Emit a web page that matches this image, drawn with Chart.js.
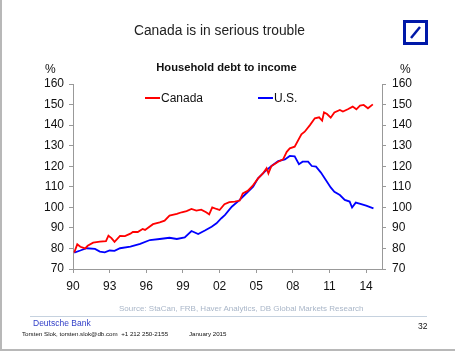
<!DOCTYPE html>
<html>
<head>
<meta charset="utf-8">
<script src="https://cdn.jsdelivr.net/npm/chart.js@4/dist/chart.umd.min.js"></script>
<style>
  body { margin: 0; width: 455px; height: 351px; position: relative; background: #fff; overflow: hidden;
         font-family: "Liberation Sans", Arial, sans-serif; }
  #frame { position: absolute; left: 0; top: 0; width: 453px; height: 349px; border-left: 2px solid #b8b8b8; border-bottom: 2px solid #b8b8b8; }
  canvas { position: absolute; left: 0; top: 0; }
  .txt { position: absolute; white-space: nowrap; }
  .leg { position: absolute; height: 2px; width: 15px; }
</style>
</head>
<body>
<div id="frame"></div>
<canvas id="chart" width="455" height="351"></canvas>

<div class="txt" style="left:0;width:439px;text-align:center;top:23px;font-size:13.8px;color:#222;">Canada is in serious trouble</div>
<svg style="position:absolute;left:403px;top:20px" width="25" height="25">
  <rect x="1.5" y="1.5" width="22" height="22" fill="none" stroke="#0018a8" stroke-width="3"/>
  <line x1="8" y1="18" x2="17" y2="7" stroke="#0018a8" stroke-width="2.5"/>
</svg>

<div class="txt" style="left:0;width:453px;text-align:center;top:61px;font-size:11.2px;font-weight:bold;color:#111;">Household debt to income</div>
<div class="txt" style="left:45px;top:62px;font-size:12px;color:#111;">%</div>
<div class="txt" style="left:400px;top:62px;font-size:12px;color:#111;">%</div>

<div class="leg" style="left:145px;top:97px;background:#ff0000;"></div>
<div class="txt" style="left:161px;top:91px;font-size:12px;color:#111;">Canada</div>
<div class="leg" style="left:258px;top:97px;background:#0000ff;"></div>
<div class="txt" style="left:274px;top:91px;font-size:12px;color:#111;">U.S.</div>

<div class="txt" style="left:119px;top:304px;font-size:8px;color:#a9b6c8;">Source: StaCan, FRB, Haver Analytics, DB Global Markets Research</div>
<div style="position:absolute;left:30px;top:316px;width:397px;height:1px;background:#c6d2df;"></div>
<div class="txt" style="left:33px;top:318px;font-size:8.5px;color:#3340c8;">Deutsche Bank</div>
<div class="txt" style="left:22px;top:330px;font-size:6.2px;color:#111;">Torsten Slok, torsten.slok@db.com&nbsp; +1 212 250-2155</div>
<div class="txt" style="left:189px;top:330px;font-size:6.2px;color:#111;">January 2015</div>
<div class="txt" style="left:418px;top:321px;font-size:8.5px;color:#111;">32</div>

<script>
// Household debt to income, %
const canadaYears = [1990.1, 1990.35, 1990.6, 1991.0, 1991.2, 1991.65, 1992.2, 1992.7, 1992.9, 1993.15, 1993.4, 1993.85,
  1994.25, 1994.7, 1994.9, 1995.3, 1995.7, 1995.9, 1996.55, 1997.1, 1997.5, 1997.9, 1998.5, 1998.9, 1999.3, 1999.7,
  2000.1, 2000.5, 2000.9, 2001.15, 2001.4, 2001.75, 2002.0, 2002.4, 2002.8, 2003.25, 2003.65, 2003.9, 2004.3, 2004.7,
  2005.15, 2005.55, 2005.85, 2006.0, 2006.25, 2006.8, 2007.2, 2007.5, 2007.75, 2008.15, 2008.7, 2008.97, 2009.4, 2009.8,
  2010.15, 2010.4, 2010.55, 2010.8, 2011.1, 2011.4, 2011.85, 2012.1, 2012.5, 2012.9, 2013.2, 2013.5, 2013.8, 2014.15, 2014.55];
const canada = [78, 82, 80.8, 80, 81.3, 82.8, 83.3, 83.6, 86.2, 85, 83.2, 86.1,
  86, 87.2, 88, 88, 89.5, 89, 91.8, 92.7, 93.5, 96, 96.8, 97.6, 98.2, 99.2,
  98.4, 98.9, 97.6, 96.6, 100, 99.2, 98.7, 101.5, 102.5, 102.8, 103.3, 106.8, 108, 110.4,
  114.1, 116.5, 119, 116.5, 120.1, 122.2, 123.3, 127, 128.7, 129.5, 135.5, 136.8, 140, 143.3,
  143.8, 142.2, 146.2, 145.4, 143.6, 146.2, 147.4, 146.6, 147.7, 149, 147.7, 149.5, 149.8, 148.2, 150.1];

const usYears = [1990.1, 1990.6, 1991.1, 1991.8, 1992.2, 1992.6, 1993.0, 1993.4, 1993.85, 1994.7, 1995.5, 1996.3,
  1997.1, 1997.9, 1998.5, 1999.15, 1999.7, 2000.25, 2000.8, 2001.35, 2001.75, 2002.15, 2002.45, 2003.0, 2003.65,
  2004.05, 2004.75, 2005.15, 2005.7, 2006.25, 2006.8, 2007.35, 2007.75, 2008.15, 2008.5, 2008.8, 2009.25, 2009.55,
  2009.9, 2010.3, 2010.7, 2011.1, 2011.4, 2011.85, 2012.25, 2012.65, 2012.85, 2013.15, 2013.6, 2014.0, 2014.6];
const us = [78, 79, 80.1, 79.8, 78.5, 78.1, 79, 78.8, 80.1, 80.9, 82.2, 84.1,
  84.6, 85.2, 84.6, 85.4, 88.5, 87, 88.7, 90.6, 92.2, 94.7, 96.3, 100.3, 103.6,
  106, 110, 114.1, 117.4, 120.1, 122.5, 123.3, 125, 124.8, 121, 122.2, 122.2, 120.1,
  119.8, 116.9, 113.3, 109.7, 107.6, 106, 103.6, 102.8, 99.9, 102.3, 101.6, 100.8, 99.5];

const xTicks = [1990, 1993, 1996, 1999, 2002, 2005, 2008, 2011, 2014];
const yTicks = [70, 80, 90, 100, 110, 120, 130, 140, 150, 160];

const toPoints = (xs, ys) => xs.map((x, i) => ({ x: x, y: ys[i] }));
const tickFont = { family: "'Liberation Sans', Arial, sans-serif", size: 12 };

function yAxis(pos) {
  return {
    position: pos,
    min: yTicks[0],
    max: yTicks[yTicks.length - 1],
    afterBuildTicks: s => { s.ticks = yTicks.map(v => ({ value: v })); },
    afterFit: s => { s.width = 73; },
    border: { color: '#999', width: 1 },
    grid: { drawOnChartArea: false, tickLength: 4, color: '#999' },
    ticks: { color: '#111', font: tickFont, padding: pos === 'left' ? 5 : 6 }
  };
}

new Chart(document.getElementById('chart'), {
  type: 'scatter',
  data: {
    datasets: [
      { label: 'Canada', data: toPoints(canadaYears, canada), showLine: true, borderColor: '#ff0000',
        borderWidth: 1.8, pointRadius: 0, tension: 0 },
      { label: 'U.S.', data: toPoints(usYears, us), showLine: true, borderColor: '#0000ff',
        borderWidth: 1.8, pointRadius: 0, tension: 0 }
    ]
  },
  options: {
    responsive: false,
    animation: false,
    layout: { padding: { top: 84, left: 0, right: 0, bottom: 0 } },
    plugins: { legend: { display: false }, tooltip: { enabled: false } },
    scales: {
      x: {
        type: 'linear',
        min: 1990,
        max: 2015.3,
        afterBuildTicks: s => { s.ticks = xTicks.map(v => ({ value: v })); },
        afterFit: s => { s.height = 82; },
        border: { color: '#999', width: 1 },
        grid: { drawOnChartArea: false, tickLength: 4, color: '#999' },
        ticks: { color: '#111', font: tickFont, padding: 6, maxRotation: 0,
                 callback: v => String(v).slice(2) }
      },
      y: yAxis('left'),
      y2: yAxis('right')
    }
  }
});
</script>
</body>
</html>
